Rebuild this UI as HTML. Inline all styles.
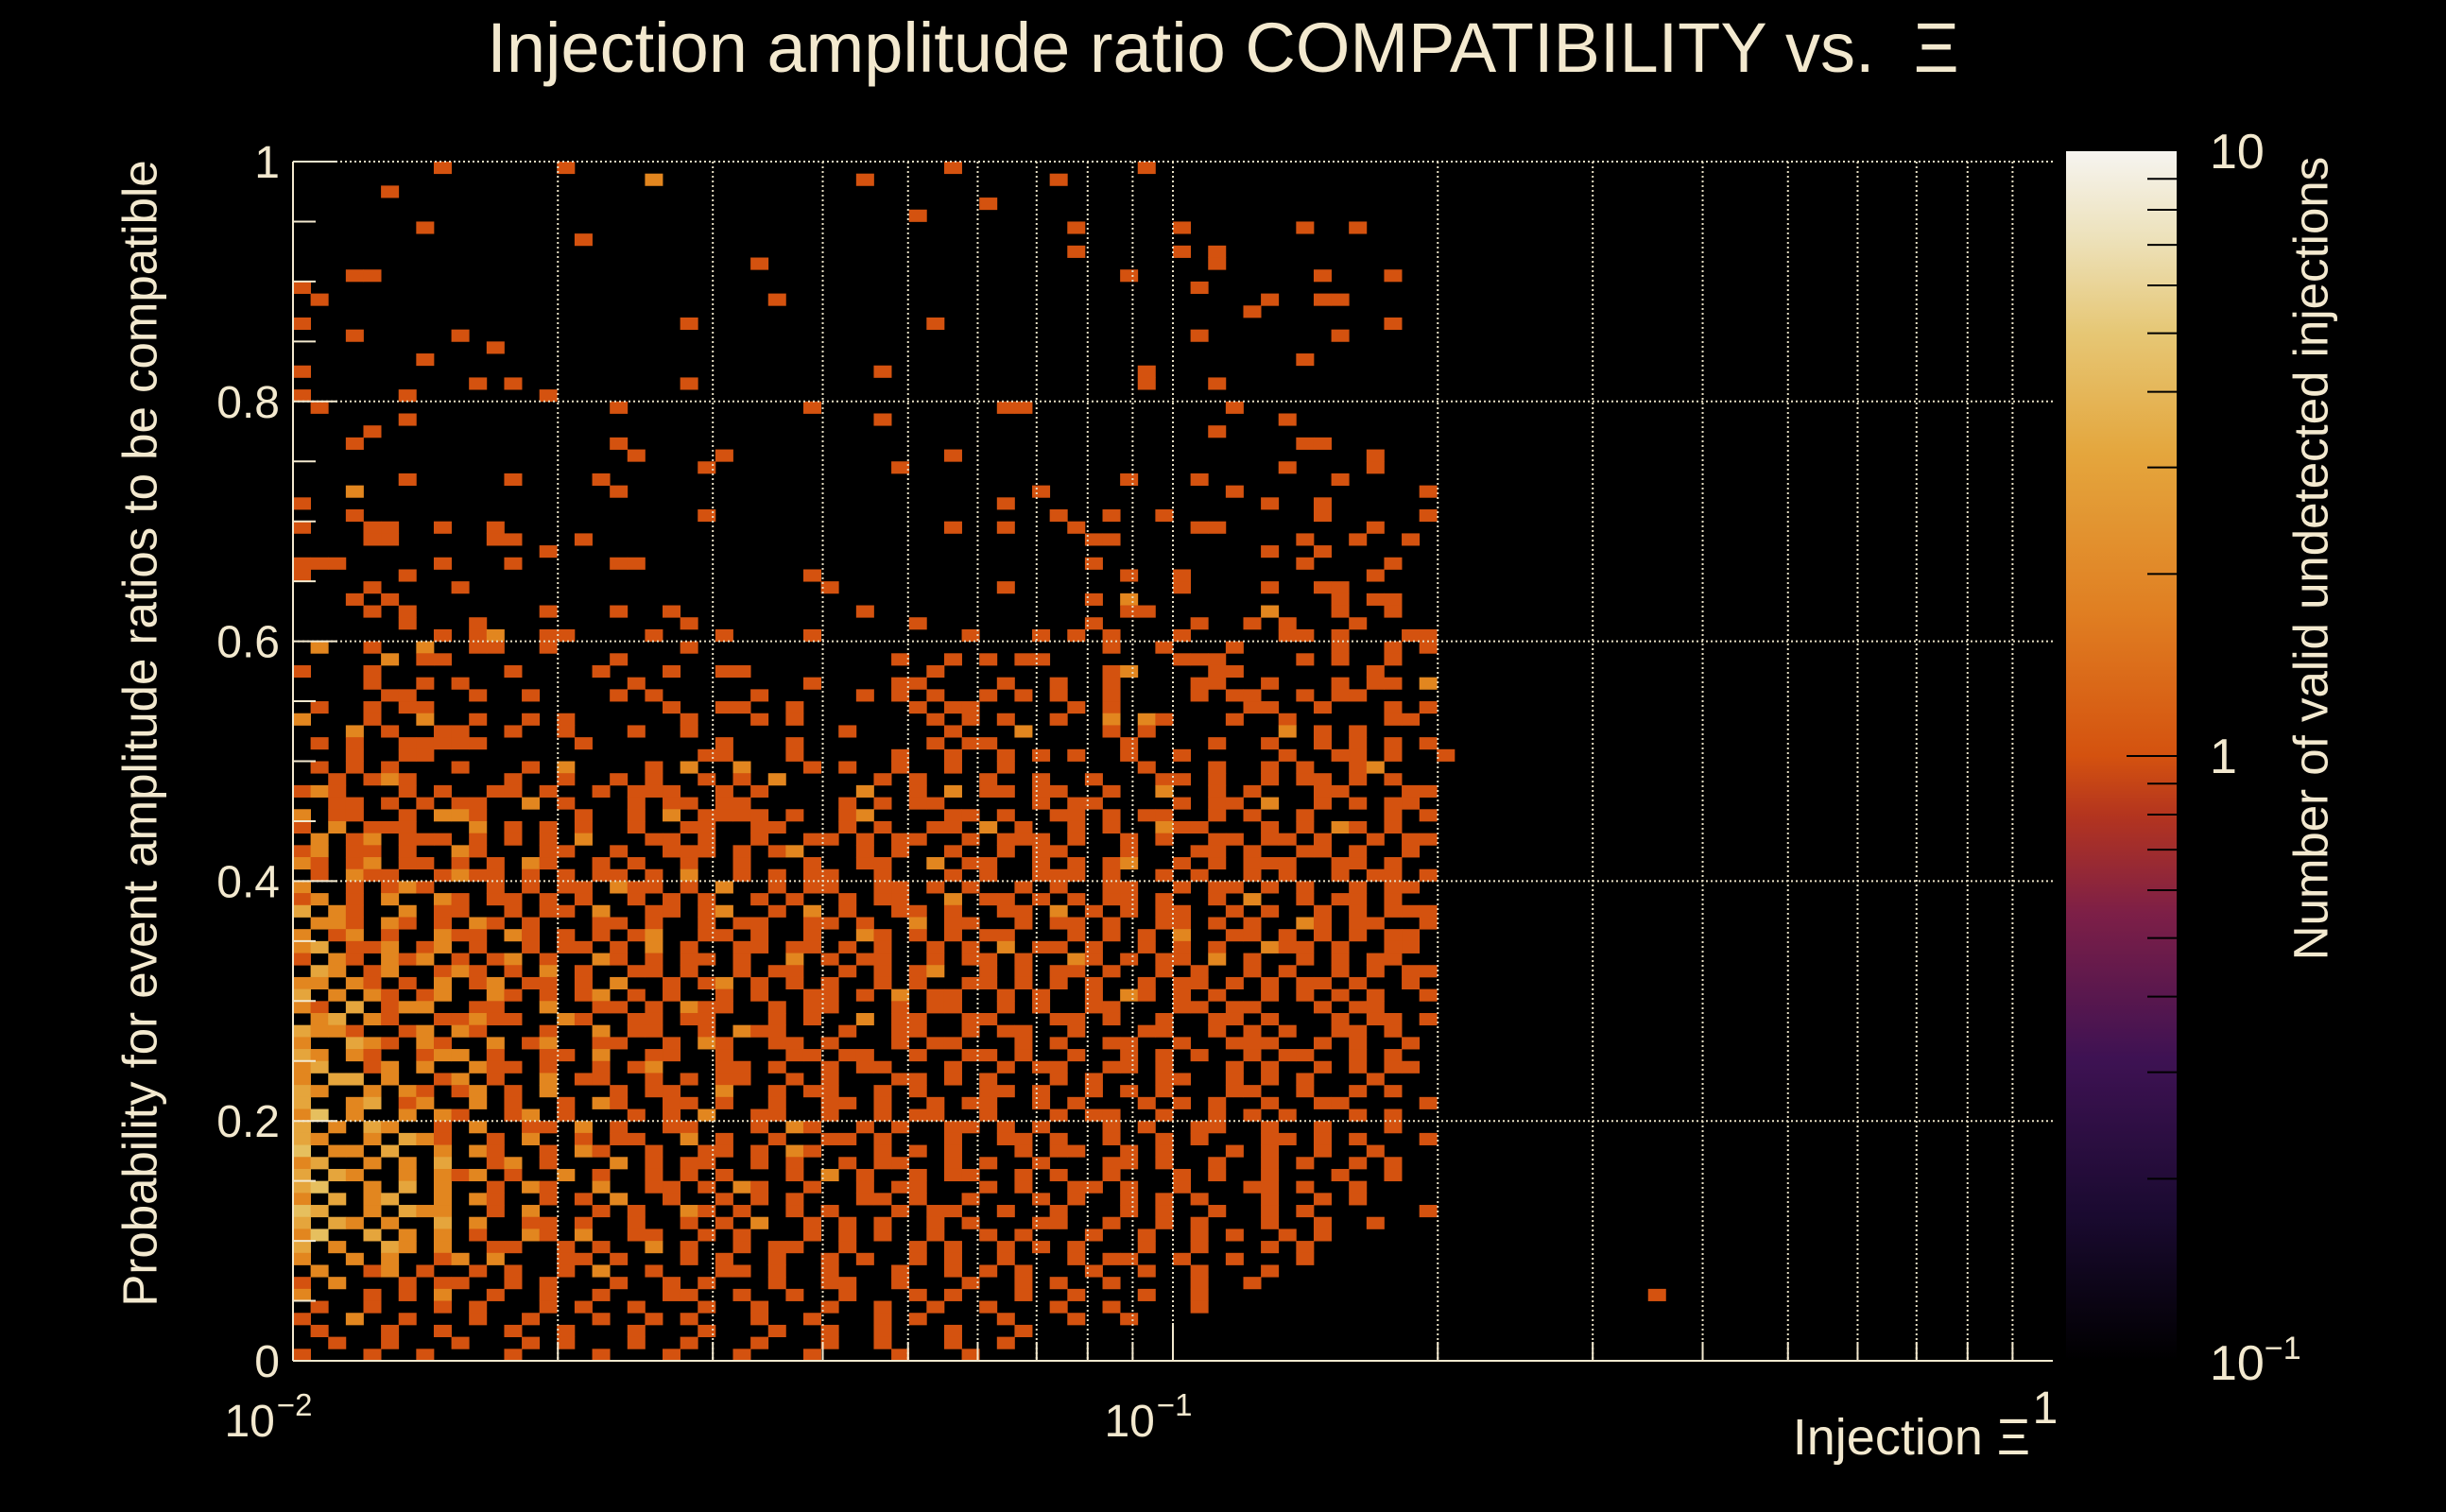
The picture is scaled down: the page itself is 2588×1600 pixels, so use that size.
<!DOCTYPE html>
<html><head><meta charset="utf-8">
<style>
html,body{margin:0;padding:0;background:#000;}
body{width:2588px;height:1600px;overflow:hidden;position:relative;font-family:"Liberation Sans",sans-serif;color:#f3e9cf;}
.t{position:absolute;white-space:nowrap;color:#f3e9cf;}
</style></head>
<body>
<div class="t" style="left:0;width:2588px;top:8px;text-align:center;font-size:74px;">Injection amplitude ratio COMPATIBILITY vs. &nbsp;Ξ</div>
<div class="t" style="left:148px;top:776px;font-size:51px;transform:translate(-50%,-50%) rotate(-90deg);">Probability for event amplitude ratios to be compatible</div>
<div class="t" style="right:440px;top:1490px;font-size:54px;">Injection Ξ</div>
<div class="t" style="left:2445px;top:591px;font-size:51px;transform:translate(-50%,-50%) rotate(-90deg);">Number of valid undetected injections</div>
<svg id="chart" width="2588" height="1600" style="position:absolute;left:0;top:0;">
<defs>
<linearGradient id="cbar" x1="0" y1="1" x2="0" y2="0">
<stop offset="0" stop-color="#000000"/>
<stop offset="0.12" stop-color="#1a0a30"/>
<stop offset="0.25" stop-color="#3e1253"/>
<stop offset="0.37" stop-color="#7d1f47"/>
<stop offset="0.45" stop-color="#b3341f"/>
<stop offset="0.5" stop-color="#d4520f"/>
<stop offset="0.62" stop-color="#e07f22"/>
<stop offset="0.75" stop-color="#e4a63d"/>
<stop offset="0.85" stop-color="#e6c775"/>
<stop offset="0.93" stop-color="#ede2bc"/>
<stop offset="1" stop-color="#f6f4f0"/>
</linearGradient>
</defs>
<g id="cells"></g><g id="grid"></g><g id="axes"></g>
</svg>
<script>
const yTickLabels = ["0","0.2","0.4","0.6","0.8","1"];
const yTickValues = [0,0.2,0.4,0.6,0.8,1];
const xTickValues = [0.01,0.1,1];
const cbarTickValues = [0.1,1,10];
const xBinsPerDecade = 50;
const yBins = 100;
// row strings, top row (y 0.99-1.00) first; char = count in x-bin starting at 0.01
const rows = [
"........1......1.....................1..........1.................",
"....................2...........1..........1......................",
".....1............................................................",
".......................................1..........................",
"...................................1...............................",
".......1....................................1.....1......1..1.....",
"................1...................................................",
"............................................1.....1.1.............",
"..........................1.........................1.............",
"...11..........................................1..........1...1...",
"1..................................................1..............",
".1.........................1...........................1..11......",
"......................................................1...........",
"1.....................1.............1.........................1...",
"...1.....1.........................................1.......1......",
"...........1......................................................",
".......1.................................................1........",
"1................................1..............1.................",
"..........1.1.........1.........................1...1.............",
"1.....1.......1...................................................",
".1................1..........1..........11...........1............",
"......1..........................1......................1.........",
"....1...............................................1.............",
"...1..............1......................................11.......",
"...................1....1............1.......................1....",
".......................1..........1.....................1....1....",
"......1.....1....1.............................1...1.......1......",
"...2..............1.......................1..........1..........1.",
"1.......................................1..............1..1.......",
"...1...................1...................1..1..1........1.....1.",
"1...11..1..1.........................1..1...1......11........1...",
"....11.....11...1............................11..........1..1..1..",
"..............1........................................1..1......",
"111.....1...1.....11.........................1...........1....1..",
"1.....1......................1.................1..1..........1....",
"....1....1....................1.........1.........1....1..11.....",
"...1.1.......................................1.2...........1.11...",
"....1.1.......1...1..1..........1..............11......2...1..1...",
"......1...1...........1............1.........1.....1..1.1...1.....",
"........1.12..11....1...1....1........1...1.1.1...1.....11.1...11.",
".2..1..2..11..1.......1.......................1..1...1.....1..1.1..",
".....2.11.........1...............1..1.1.11.......111....1.1..1...",
"1...1.......1....1...1..11..........1.........12....11.......1....",
"....1..1.1.........1.........1....11....1..1..1....11..1...1.11.2.",
".....11...1..1....1.1.....1.....1.1.1..1.1.1..1....1.11..1.11.....",
".1..1.11.............1..11..1......1.11.....1.1.......11..1...1.1.",
"2...1..2..1..1.1......1...1.1.......1.1.1..1..2.21...1..1.....11.2",
"...2.1..11..1..1...1..1........1.....1...2....1.1.......2.1.1....",
".1.1..11111.....1.......1...1.......1.11.......1....1..1..1.1.1.1.",
"...1..11...............11...1.....1..1..1.1.1..1..1.....1..11.1..1",
".1.1.1...1...1.2....1.2..2...1.1..1..1..1.......1...1..1.1..12...2.",
"..1.121.....1..1..1.1..1.1.2.....1.1...1..1..1...11.1..1.11.1.1..",
"121...1.1..11.1..1.111..1.1.....2..1.2.11.11..1..2..1.1...11...11",
"..11.1.1.11..2.1...1.11.11.....1.1.11.....1.11....1.11.2..1.1.11.",
"2.11..1.221.....1..1.2.1111.1..12....11.1..11.1.11..1.1..1....1.12",
"1.2.111...2.1.1.1..1..11..11...1.1..11.2.1..1.1..211...1.1.21.1..",
".2.12.111.1.1.1.2...11.1..1..11.1.11..1.111.1..1.1..11.11.1..1.11.",
"12.11.1..21...11..1..111.1.12...1.1..1..1.11...1...11.1..11.1..1.",
"21.12.11.1.1.21..1.1..1..1...1..11..2.11..1.1.12..1.1.111..11.1..1",
".1.211..1211.1.1.11.1.2..1.1.11..1...1.1..111.1..1.1..1.1..1.11.1",
"2..1.121...1.1.11.211.1.2..1.11..11.1.1..1.1..11..1.11.1.1..1.11.",
"12.1.2..21.11.1.1..1.1.1..1.1..1.11..2.11.1.1.11.1..1.2..1.11.1..1",
"3.21..2.11..1.11.2..11.12..1.2.1..11.1..11.2.1.1.11..1.1..1.1.111",
".221.21.1.21.1...11.1..1.11..11.1..2.11..1.11.1..11.1.1..21.11..1",
"2.12.1..211.21.1.1.12..11.1..1..21.1.1.11...1.1.1.2..11.1.1.1.11.",
"23.112.12.1..1.11.1.2.1..11.11.1.1..1.1.2.11.1..1.1.1..211.1..11.1",
"1.21.212.1.12.1..21.1.11.1..2.1.11..1.11.1..21.1.11.2.1..1.1.11..",
".32.12..121.1.2.1..11.1..1.11..1.1.12..1.1.11.1..1.1..1.1..1.1.11",
"22.21.1.2.12.11.1.2..1.12.1.1.1..1.1..11.1.1.1..1.11.1.1.11.1..1.",
"3.2.21.12..21.1.12.1.1..1.1..11.1.2.11..1.1..1.21.1.1..1.1.1.1..1",
"21.3.122..11..2..11.1.211..1.11...1.11..1.1..11...11.11...1.11..",
".23.21..11211..21..11.11...1.1..2.11..11...11.1..1..11.1...1.11.1",
"3221..12.21...1..2.11..1.211...1..11..1.11..1...11..1.1.1..11.1..",
"2..321.21..2.12..11..1.21..11.1...1.11...1.1..11..1..111..1.1..1",
"32.21..122.1..11.2..11..1...11.11..1..11.1..1..1.1.1..1.11..1.1.",
"23..12.2..211.1..1.12...11.1..1.11...1..1.11..11.1...1.1..1.1.11",
"2.33.2..12.1..2.11..1.1.11..1.1...11.1.1...1.1...11..1.1.1...1..",
"32..2.21.12.1.2...1.11..2..1.11..1.1...11.1..1.1.1...11..1..1.1.",
"3..23.12..2.1..1.21..11.1..1..11.1..1.11..1.1...1.1.1..1..11....1",
"24.2..2.21..12.1...1.1.2..11..1..1.11..1...1.11..1..1.1.1...1.1.",
"3.2.32..1.2..11.2.1..11...1.21..1.1..11.1.1...1.1..11..1..1...1.",
"32..2.321..1.2..1.11..2.1..1..11.1...1..11.1..1..1.1...11.1.1...1",
"4.22.3..2.21..1.21..1..11.1.21...1.1.1...1.11..1.1...1.1..1..1..",
"23..2.2.3..12.1...2.1.11..1.1..1.11..1.1..1...11.1..1..1.1..1.1.",
"3.32..2.212.1..2.1..1.1.1...1.2.1..1.11..1.1..1...1.1..1...1..1.",
"34..2.3.2..1.21..2..11.1.21..1..1.11...1.1..11.1..1...11.1..1...",
"2.3.23..2.21..1.1.2..1..1.1.1...11.1..1...1.1..1.1.1...1..1.1..",
"43..2.322..1.2...1.1..21.1..1.1...1.11..1..1...1.1..1..1.1......1",
"3.32.2..3.2..11.1..1..1.1.2..1.1.1..1.1...11..1..1.1...1..1..1..",
"24..3.2.2.1..21.2..11..1.1...1.1.1..1..1.1...1..1..1.1..1.1.....",
"3.2..32.2..11..1.1..2.1..1.11..1...1.1..1.1.1...1..1...1.1......",
"2..2.2..12.2...11.1...1.1..1..1.1..1.1..1...1.11..1..1...1......",
".2..12.1..1.1..1.2..1...11.1..1...1..1.1.1...1..1..1...1........",
"1.2...1.11..1.1...1..1.1...1..11..1...1..1.1..1....1..1.........",
"2...1.1.2..1..1..1...11..1..1..1...1.1...1..1...1..1............",
".1..1...1.1...1.1..1...1..1...1..1..1..1...1..1....1............",
"1..2..1...1..1...1..1.1...1..1...1.1....1...1..1................",
".1...1..1...1..1...1...1...1..1..1...1...1......................",
"..1..1...1...1.1...1..1...1...1..1...1..1.......................",
"1...1..1....1....1...1...1...1....1...1.........................",
];
// isolated extra cells: x value, y bin (from bottom), count
const extraX = [0.2, 0.35];
const extraYBin = [50, 5];
const extraCount = [1, 1];

const L=310,R=2172,T=171,B=1440;
const xs = v => L + (Math.log10(v)+2)/2*(R-L);
const ys = v => B - v*(B-T);
const cs = v => B - (Math.log10(v)+1)/2*(B-160);
function color(n){
  if(n<=1) return "#d4520f";
  if(n===2) return "#e2861f";
  if(n===3) return "#e5a53c";
  if(n===4) return "#e6bf5e";
  return "#ead7a0";
}
const NS="http://www.w3.org/2000/svg";
const cells=document.getElementById('cells');
function addCell(xLo,xHi,yLo,yHi,n){
  const r=document.createElementNS(NS,'rect');
  const x0=xs(xLo),x1=xs(xHi),y0=ys(yHi),y1=ys(yLo);
  r.setAttribute('x',x0.toFixed(2));r.setAttribute('y',y0.toFixed(2));
  r.setAttribute('width',(x1-x0+0.4).toFixed(2));r.setAttribute('height',(y1-y0+0.4).toFixed(2));
  r.setAttribute('fill',color(n));
  
  
  cells.appendChild(r);
}
rows.forEach((s,ri)=>{
  const yb = yBins-1-ri;
  for(let c=0;c<Math.min(s.length,65);c++){
    const ch=s[c]; if(ch==='.') continue;
    const n=parseInt(ch,10);
    addCell(Math.pow(10,-2+c/xBinsPerDecade),Math.pow(10,-2+(c+1)/xBinsPerDecade),yb/yBins,(yb+1)/yBins,n);
  }
});
extraX.forEach((xv,i)=>{
  const c=Math.floor((Math.log10(xv)+2)*xBinsPerDecade);
  addCell(Math.pow(10,-2+c/xBinsPerDecade),Math.pow(10,-2+(c+1)/xBinsPerDecade),extraYBin[i]/yBins,(extraYBin[i]+1)/yBins,extraCount[i]);
});

const grid=document.getElementById('grid'), axes=document.getElementById('axes');
function line(g,x1,y1,x2,y2,stroke,w,dash,name){
  const l=document.createElementNS(NS,'line');
  l.setAttribute('x1',x1);l.setAttribute('y1',y1);l.setAttribute('x2',x2);l.setAttribute('y2',y2);
  l.setAttribute('stroke',stroke);l.setAttribute('stroke-width',w);
  if(dash) l.setAttribute('stroke-dasharray',dash);
  
  
  g.appendChild(l);
}
function text(x,y,str,size,anchor,name){
  const t=document.createElementNS(NS,'text');
  t.setAttribute('x',x);t.setAttribute('y',y);t.setAttribute('font-size',size);
  t.setAttribute('fill','#f3e9cf');t.setAttribute('text-anchor',anchor);
  t.setAttribute('font-family','Liberation Sans, sans-serif');
  t.textContent=str;
  
  
  axes.appendChild(t);return t;
}
yTickValues.forEach(v=>{ if(v>0) line(grid,L,ys(v),R,ys(v),'#e8dfc4',2,'2,3','y-grid-line'); });
for(let d=-2;d<0;d++){ for(let k=1;k<10;k++){ const v=k*Math.pow(10,d); if(v>0.0101) line(grid,xs(v),T,xs(v),B,'#e8dfc4',2,'2,3','x-grid-line'); } }
line(axes,L,T,L,B,'#f3e9cf',2,null,'y-axis-line');
line(axes,L,B,R,B,'#f3e9cf',2,null,'x-axis-line');
for(let i=0;i<=20;i++){ const v=i*0.05; line(axes,L,ys(v),L+(i%4===0?47:24),ys(v),'#f3e9cf',2,null,'y-tick'); }
for(let d=-2;d<0;d++){ for(let k=1;k<10;k++){ const v=k*Math.pow(10,d); line(axes,xs(v),B,xs(v),B-(k===1?40:20),'#f3e9cf',2,null,'x-tick'); } }
yTickValues.forEach((v,i)=>{ text(L-14,ys(v)+17,yTickLabels[i],48,'end','y-tick-label'); });
const xExp=["-2","-1",""];
xTickValues.forEach((v,i)=>{
  if(i===2){ text(xs(v)-8,B+66,"1",48,'middle','x-tick-label'); return; }
  const t=text(xs(v)-26,B+80,"10",48,'middle','x-tick-label');
  const s=document.createElementNS(NS,'tspan');s.setAttribute('font-size',33);s.setAttribute('dy',-22);s.setAttribute('dx',2);s.textContent=xExp[i].replace('-','\u2212');t.appendChild(s);
});
const cb=document.createElementNS(NS,'rect');
cb.setAttribute('x',2186);cb.setAttribute('y',160);cb.setAttribute('width',117);cb.setAttribute('height',B-160);cb.setAttribute('fill','url(#cbar)');


axes.appendChild(cb);
for(let d=-1;d<1;d++){ for(let k=1;k<10;k++){ const v=k*Math.pow(10,d); if(v<=0.1) continue; line(axes,2272,cs(v),2303,cs(v),'#000',2,null,'colorbar-tick'); } }
line(axes,2250,cs(1),2303,cs(1),'#000',2,null,'colorbar-tick');
const cbLab=["10\u207B\u00B9","1","10"];
cbarTickValues.forEach((v,i)=>{
  if(i===0){ const t=text(2338,cs(v)+20,"10",52,'start','colorbar-label'); const s=document.createElementNS(NS,'tspan');s.setAttribute('font-size',34);s.setAttribute('dy',-22);s.textContent='\u22121';t.appendChild(s); }
  else text(2338,cs(v)+18,cbLab[i],52,'start','colorbar-label');
});
</script>
</body></html>
